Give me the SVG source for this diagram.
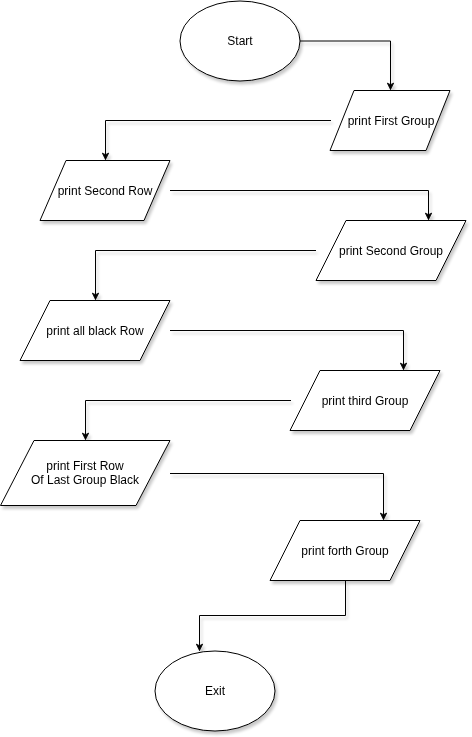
<svg xmlns="http://www.w3.org/2000/svg" width="472" height="737" viewBox="0 0 472 737">
<defs>
<filter id="sh" x="-20%" y="-20%" width="140%" height="140%">
<feGaussianBlur in="SourceAlpha" stdDeviation="1.5"/>
<feOffset dx="2" dy="3" result="o"/>
<feComponentTransfer><feFuncA type="linear" slope="0.22"/></feComponentTransfer>
<feMerge><feMergeNode/><feMergeNode in="SourceGraphic"/></feMerge>
</filter>
<marker id="arr" viewBox="0 0 10 10" refX="9" refY="5" markerWidth="8" markerHeight="8" markerUnits="userSpaceOnUse" orient="auto">
<path d="M1,1 L9,5 L1,9 L3,5 z" fill="#000" stroke="#000" stroke-width="1"/>
</marker>
</defs>
<style>
.s{fill:#fff;stroke:#000;stroke-width:1}
.t{font-family:"Liberation Sans",Arial,Helvetica,sans-serif;font-size:12px;fill:#000;text-anchor:middle}
.e{fill:none;stroke:#000;stroke-width:1;marker-end:url(#arr)}
.n{fill:none;stroke:#000;stroke-width:1}
</style>
<rect width="472" height="737" fill="#fff"/>
<g id="connectors" filter="url(#sh)">
<path class="e" d="M300,41 H390.5 V89.5"/>
<path class="e" d="M331,120.5 H105.5 V159.5"/>
<path class="e" d="M170,190.5 H428.5 V219.5"/>
<path class="e" d="M316,250.5 H95.5 V299.5"/>
<path class="e" d="M170,330.5 H403.5 V369.5"/>
<path class="e" d="M291,400.5 H85.5 V439.5"/>
<path class="e" d="M170,473.5 H383.5 V519.5"/>
<path class="e" d="M345.5,580 V615.5 H199.5 V650.5"/>
</g>
<g id="start" filter="url(#sh)">
<ellipse class="s" cx="240" cy="41" rx="60" ry="40"/>
<text class="t" x="240" y="45">Start</text>
</g>
<g id="first-group" filter="url(#sh)">
<polygon class="s" points="354,90.5 450,90.5 426,150.5 330,150.5"/>
<text class="t" x="391" y="125">print First Group</text>
</g>
<g id="second-row" filter="url(#sh)">
<polygon class="s" points="66,160.5 170,160.5 144,220.5 40,220.5"/>
<text class="t" x="105" y="195">print Second Row</text>
</g>
<g id="second-group" filter="url(#sh)">
<polygon class="s" points="346,220.5 466,220.5 436,280.5 316,280.5"/>
<text class="t" x="391" y="255">print Second Group</text>
</g>
<g id="all-black-row" filter="url(#sh)">
<polygon class="s" points="50,300.5 170,300.5 140,360.5 20,360.5"/>
<text class="t" x="95" y="335">print all black Row</text>
</g>
<g id="third-group" filter="url(#sh)">
<polygon class="s" points="320,370.5 440,370.5 410,430.5 290,430.5"/>
<text class="t" x="365" y="405">print third Group</text>
</g>
<g id="first-row-last-group" filter="url(#sh)">
<polygon class="s" points="34,440.5 170,440.5 136,505.5 0.5,505.5"/>
<text class="t" x="85" y="470">print First Row</text>
<text class="t" x="85" y="484">Of Last Group Black</text>
</g>
<g id="forth-group" filter="url(#sh)">
<polygon class="s" points="300,520.5 420,520.5 390,580.5 270,580.5"/>
<text class="t" x="345" y="555">print forth Group</text>
</g>
<g id="exit" filter="url(#sh)">
<ellipse class="s" cx="215" cy="691" rx="60" ry="40"/>
<text class="t" x="215" y="695">Exit</text>
</g>
</svg>
